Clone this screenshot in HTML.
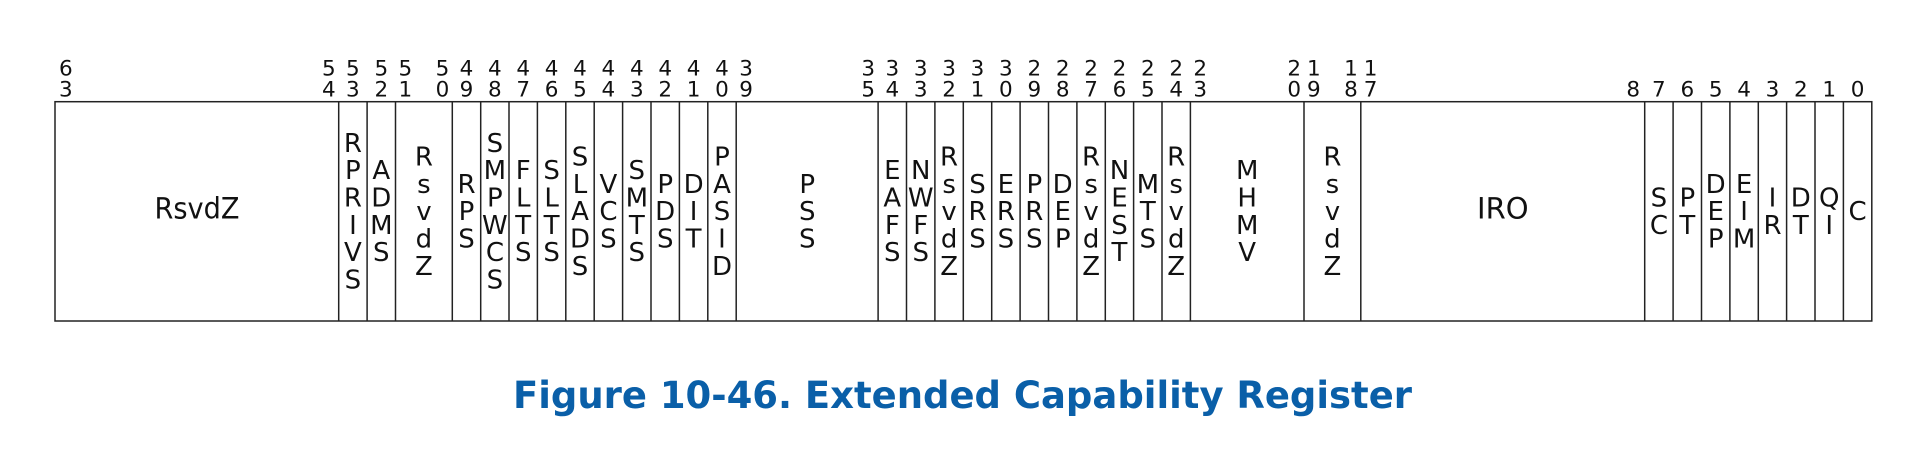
<!DOCTYPE html>
<html><head><meta charset="utf-8"><style>
html,body{margin:0;padding:0;background:#fff;}
svg{display:block;}
.d{font-family:"DejaVu Sans",sans-serif;font-size:21.5px;fill:#111;}
.f{font-family:"DejaVu Sans",sans-serif;font-size:26px;fill:#111;text-anchor:middle;}
.c{font-family:"DejaVu Sans","Liberation Sans",sans-serif;font-weight:bold;font-size:37px;fill:#0a5fa8;}
</style></head><body>
<svg width="1926" height="462" xmlns="http://www.w3.org/2000/svg">
<rect x="55" y="101.7" width="1816.8" height="219.3" fill="none" stroke="#222" stroke-width="1.5"/>
<g stroke="#222" stroke-width="1.5">
<line x1="338.7" y1="101.7" x2="338.7" y2="321"/><line x1="367.1" y1="101.7" x2="367.1" y2="321"/>
<line x1="395.5" y1="101.7" x2="395.5" y2="321"/><line x1="452.3" y1="101.7" x2="452.3" y2="321"/>
<line x1="480.7" y1="101.7" x2="480.7" y2="321"/><line x1="509" y1="101.7" x2="509" y2="321"/>
<line x1="537.4" y1="101.7" x2="537.4" y2="321"/><line x1="565.8" y1="101.7" x2="565.8" y2="321"/>
<line x1="594.2" y1="101.7" x2="594.2" y2="321"/><line x1="622.6" y1="101.7" x2="622.6" y2="321"/>
<line x1="651" y1="101.7" x2="651" y2="321"/><line x1="679.4" y1="101.7" x2="679.4" y2="321"/>
<line x1="707.8" y1="101.7" x2="707.8" y2="321"/><line x1="736.2" y1="101.7" x2="736.2" y2="321"/>
<line x1="878.1" y1="101.7" x2="878.1" y2="321"/><line x1="906.5" y1="101.7" x2="906.5" y2="321"/>
<line x1="934.9" y1="101.7" x2="934.9" y2="321"/><line x1="963.3" y1="101.7" x2="963.3" y2="321"/>
<line x1="991.7" y1="101.7" x2="991.7" y2="321"/><line x1="1020.1" y1="101.7" x2="1020.1" y2="321"/>
<line x1="1048.5" y1="101.7" x2="1048.5" y2="321"/><line x1="1076.9" y1="101.7" x2="1076.9" y2="321"/>
<line x1="1105.3" y1="101.7" x2="1105.3" y2="321"/><line x1="1133.6" y1="101.7" x2="1133.6" y2="321"/>
<line x1="1162" y1="101.7" x2="1162" y2="321"/><line x1="1190.4" y1="101.7" x2="1190.4" y2="321"/>
<line x1="1304" y1="101.7" x2="1304" y2="321"/><line x1="1360.8" y1="101.7" x2="1360.8" y2="321"/>
<line x1="1644.7" y1="101.7" x2="1644.7" y2="321"/><line x1="1673.1" y1="101.7" x2="1673.1" y2="321"/>
<line x1="1701.5" y1="101.7" x2="1701.5" y2="321"/><line x1="1729.9" y1="101.7" x2="1729.9" y2="321"/>
<line x1="1758.3" y1="101.7" x2="1758.3" y2="321"/><line x1="1786.6" y1="101.7" x2="1786.6" y2="321"/>
<line x1="1815" y1="101.7" x2="1815" y2="321"/><line x1="1843.4" y1="101.7" x2="1843.4" y2="321"/>
</g>

<g class="d">
<text x="59" y="75.5">6</text><text x="59" y="96.7">3</text>
<text x="335.7" y="75.5" text-anchor="end">5</text><text x="335.7" y="96.7" text-anchor="end">4</text>
<text x="398.5" y="75.5">5</text><text x="398.5" y="96.7">1</text>
<text x="449.3" y="75.5" text-anchor="end">5</text><text x="449.3" y="96.7" text-anchor="end">0</text>
<text x="739.2" y="75.5">3</text><text x="739.2" y="96.7">9</text>
<text x="875.1" y="75.5" text-anchor="end">3</text><text x="875.1" y="96.7" text-anchor="end">5</text>
<text x="1193.4" y="75.5">2</text><text x="1193.4" y="96.7">3</text>
<text x="1301" y="75.5" text-anchor="end">2</text><text x="1301" y="96.7" text-anchor="end">0</text>
<text x="1307" y="75.5">1</text><text x="1307" y="96.7">9</text>
<text x="1357.8" y="75.5" text-anchor="end">1</text><text x="1357.8" y="96.7" text-anchor="end">8</text>
<text x="1363.8" y="75.5">1</text><text x="1363.8" y="96.7">7</text>
<text x="1640" y="96.7" text-anchor="end">8</text>
</g>
<g class="d" text-anchor="middle">
<text x="352.9" y="75.5">5</text><text x="352.9" y="96.7">3</text>
<text x="381.3" y="75.5">5</text><text x="381.3" y="96.7">2</text>
<text x="466.5" y="75.5">4</text><text x="466.5" y="96.7">9</text>
<text x="494.9" y="75.5">4</text><text x="494.9" y="96.7">8</text>
<text x="523.2" y="75.5">4</text><text x="523.2" y="96.7">7</text>
<text x="551.6" y="75.5">4</text><text x="551.6" y="96.7">6</text>
<text x="580" y="75.5">4</text><text x="580" y="96.7">5</text>
<text x="608.4" y="75.5">4</text><text x="608.4" y="96.7">4</text>
<text x="636.8" y="75.5">4</text><text x="636.8" y="96.7">3</text>
<text x="665.2" y="75.5">4</text><text x="665.2" y="96.7">2</text>
<text x="693.6" y="75.5">4</text><text x="693.6" y="96.7">1</text>
<text x="722" y="75.5">4</text><text x="722" y="96.7">0</text>
<text x="892.3" y="75.5">3</text><text x="892.3" y="96.7">4</text>
<text x="920.7" y="75.5">3</text><text x="920.7" y="96.7">3</text>
<text x="949.1" y="75.5">3</text><text x="949.1" y="96.7">2</text>
<text x="977.5" y="75.5">3</text><text x="977.5" y="96.7">1</text>
<text x="1005.9" y="75.5">3</text><text x="1005.9" y="96.7">0</text>
<text x="1034.3" y="75.5">2</text><text x="1034.3" y="96.7">9</text>
<text x="1062.7" y="75.5">2</text><text x="1062.7" y="96.7">8</text>
<text x="1091.1" y="75.5">2</text><text x="1091.1" y="96.7">7</text>
<text x="1119.5" y="75.5">2</text><text x="1119.5" y="96.7">6</text>
<text x="1147.8" y="75.5">2</text><text x="1147.8" y="96.7">5</text>
<text x="1176.2" y="75.5">2</text><text x="1176.2" y="96.7">4</text>
<text x="1658.9" y="96.7">7</text>
<text x="1687.3" y="96.7">6</text>
<text x="1715.7" y="96.7">5</text>
<text x="1744.1" y="96.7">4</text>
<text x="1772.5" y="96.7">3</text>
<text x="1800.8" y="96.7">2</text>
<text x="1829.2" y="96.7">1</text>
<text x="1857.6" y="96.7">0</text>
</g>

<g class="f">
<text x="197" y="218.5" font-size="29" textLength="85" lengthAdjust="spacingAndGlyphs">RsvdZ</text>
<text x="1502.8" y="218.5" font-size="29">IRO</text>
<text x="352.9" y="151.9"><tspan x="352.9">R</tspan><tspan x="352.9" dy="27.3">P</tspan><tspan x="352.9" dy="27.3">R</tspan><tspan x="352.9" dy="27.3">I</tspan><tspan x="352.9" dy="27.3">V</tspan><tspan x="352.9" dy="27.3">S</tspan></text>
<text x="381.3" y="179.2"><tspan x="381.3">A</tspan><tspan x="381.3" dy="27.3">D</tspan><tspan x="381.3" dy="27.3">M</tspan><tspan x="381.3" dy="27.3">S</tspan></text>
<text x="423.9" y="165.6"><tspan x="423.9">R</tspan><tspan x="423.9" dy="27.3">s</tspan><tspan x="423.9" dy="27.3">v</tspan><tspan x="423.9" dy="27.3">d</tspan><tspan x="423.9" dy="27.3">Z</tspan></text>
<text x="466.5" y="192.9"><tspan x="466.5">R</tspan><tspan x="466.5" dy="27.3">P</tspan><tspan x="466.5" dy="27.3">S</tspan></text>
<text x="494.9" y="151.9"><tspan x="494.9">S</tspan><tspan x="494.9" dy="27.3">M</tspan><tspan x="494.9" dy="27.3">P</tspan><tspan x="494.9" dy="27.3">W</tspan><tspan x="494.9" dy="27.3">C</tspan><tspan x="494.9" dy="27.3">S</tspan></text>
<text x="523.2" y="179.2"><tspan x="523.2">F</tspan><tspan x="523.2" dy="27.3">L</tspan><tspan x="523.2" dy="27.3">T</tspan><tspan x="523.2" dy="27.3">S</tspan></text>
<text x="551.6" y="179.2"><tspan x="551.6">S</tspan><tspan x="551.6" dy="27.3">L</tspan><tspan x="551.6" dy="27.3">T</tspan><tspan x="551.6" dy="27.3">S</tspan></text>
<text x="580" y="165.6"><tspan x="580">S</tspan><tspan x="580" dy="27.3">L</tspan><tspan x="580" dy="27.3">A</tspan><tspan x="580" dy="27.3">D</tspan><tspan x="580" dy="27.3">S</tspan></text>
<text x="608.4" y="192.9"><tspan x="608.4">V</tspan><tspan x="608.4" dy="27.3">C</tspan><tspan x="608.4" dy="27.3">S</tspan></text>
<text x="636.8" y="179.2"><tspan x="636.8">S</tspan><tspan x="636.8" dy="27.3">M</tspan><tspan x="636.8" dy="27.3">T</tspan><tspan x="636.8" dy="27.3">S</tspan></text>
<text x="665.2" y="192.9"><tspan x="665.2">P</tspan><tspan x="665.2" dy="27.3">D</tspan><tspan x="665.2" dy="27.3">S</tspan></text>
<text x="693.6" y="192.9"><tspan x="693.6">D</tspan><tspan x="693.6" dy="27.3">I</tspan><tspan x="693.6" dy="27.3">T</tspan></text>
<text x="722" y="165.6"><tspan x="722">P</tspan><tspan x="722" dy="27.3">A</tspan><tspan x="722" dy="27.3">S</tspan><tspan x="722" dy="27.3">I</tspan><tspan x="722" dy="27.3">D</tspan></text>
<text x="807.2" y="192.9"><tspan x="807.2">P</tspan><tspan x="807.2" dy="27.3">S</tspan><tspan x="807.2" dy="27.3">S</tspan></text>
<text x="892.3" y="179.2"><tspan x="892.3">E</tspan><tspan x="892.3" dy="27.3">A</tspan><tspan x="892.3" dy="27.3">F</tspan><tspan x="892.3" dy="27.3">S</tspan></text>
<text x="920.7" y="179.2"><tspan x="920.7">N</tspan><tspan x="920.7" dy="27.3">W</tspan><tspan x="920.7" dy="27.3">F</tspan><tspan x="920.7" dy="27.3">S</tspan></text>
<text x="949.1" y="165.6"><tspan x="949.1">R</tspan><tspan x="949.1" dy="27.3">s</tspan><tspan x="949.1" dy="27.3">v</tspan><tspan x="949.1" dy="27.3">d</tspan><tspan x="949.1" dy="27.3">Z</tspan></text>
<text x="977.5" y="192.9"><tspan x="977.5">S</tspan><tspan x="977.5" dy="27.3">R</tspan><tspan x="977.5" dy="27.3">S</tspan></text>
<text x="1005.9" y="192.9"><tspan x="1005.9">E</tspan><tspan x="1005.9" dy="27.3">R</tspan><tspan x="1005.9" dy="27.3">S</tspan></text>
<text x="1034.3" y="192.9"><tspan x="1034.3">P</tspan><tspan x="1034.3" dy="27.3">R</tspan><tspan x="1034.3" dy="27.3">S</tspan></text>
<text x="1062.7" y="192.9"><tspan x="1062.7">D</tspan><tspan x="1062.7" dy="27.3">E</tspan><tspan x="1062.7" dy="27.3">P</tspan></text>
<text x="1091.1" y="165.6"><tspan x="1091.1">R</tspan><tspan x="1091.1" dy="27.3">s</tspan><tspan x="1091.1" dy="27.3">v</tspan><tspan x="1091.1" dy="27.3">d</tspan><tspan x="1091.1" dy="27.3">Z</tspan></text>
<text x="1119.5" y="179.2"><tspan x="1119.5">N</tspan><tspan x="1119.5" dy="27.3">E</tspan><tspan x="1119.5" dy="27.3">S</tspan><tspan x="1119.5" dy="27.3">T</tspan></text>
<text x="1147.8" y="192.9"><tspan x="1147.8">M</tspan><tspan x="1147.8" dy="27.3">T</tspan><tspan x="1147.8" dy="27.3">S</tspan></text>
<text x="1176.2" y="165.6"><tspan x="1176.2">R</tspan><tspan x="1176.2" dy="27.3">s</tspan><tspan x="1176.2" dy="27.3">v</tspan><tspan x="1176.2" dy="27.3">d</tspan><tspan x="1176.2" dy="27.3">Z</tspan></text>
<text x="1247.2" y="179.2"><tspan x="1247.2">M</tspan><tspan x="1247.2" dy="27.3">H</tspan><tspan x="1247.2" dy="27.3">M</tspan><tspan x="1247.2" dy="27.3">V</tspan></text>
<text x="1332.4" y="165.6"><tspan x="1332.4">R</tspan><tspan x="1332.4" dy="27.3">s</tspan><tspan x="1332.4" dy="27.3">v</tspan><tspan x="1332.4" dy="27.3">d</tspan><tspan x="1332.4" dy="27.3">Z</tspan></text>
<text x="1658.9" y="206.5"><tspan x="1658.9">S</tspan><tspan x="1658.9" dy="27.3">C</tspan></text>
<text x="1687.3" y="206.5"><tspan x="1687.3">P</tspan><tspan x="1687.3" dy="27.3">T</tspan></text>
<text x="1715.7" y="192.9"><tspan x="1715.7">D</tspan><tspan x="1715.7" dy="27.3">E</tspan><tspan x="1715.7" dy="27.3">P</tspan></text>
<text x="1744.1" y="192.9"><tspan x="1744.1">E</tspan><tspan x="1744.1" dy="27.3">I</tspan><tspan x="1744.1" dy="27.3">M</tspan></text>
<text x="1772.5" y="206.5"><tspan x="1772.5">I</tspan><tspan x="1772.5" dy="27.3">R</tspan></text>
<text x="1800.8" y="206.5"><tspan x="1800.8">D</tspan><tspan x="1800.8" dy="27.3">T</tspan></text>
<text x="1829.2" y="206.5"><tspan x="1829.2">Q</tspan><tspan x="1829.2" dy="27.3">I</tspan></text>
<text x="1857.6" y="220.2">C</text>
</g>

<text class="c" x="513" y="408" textLength="899" lengthAdjust="spacingAndGlyphs">Figure 10-46.  Extended Capability Register</text>
</svg>
</body></html>
